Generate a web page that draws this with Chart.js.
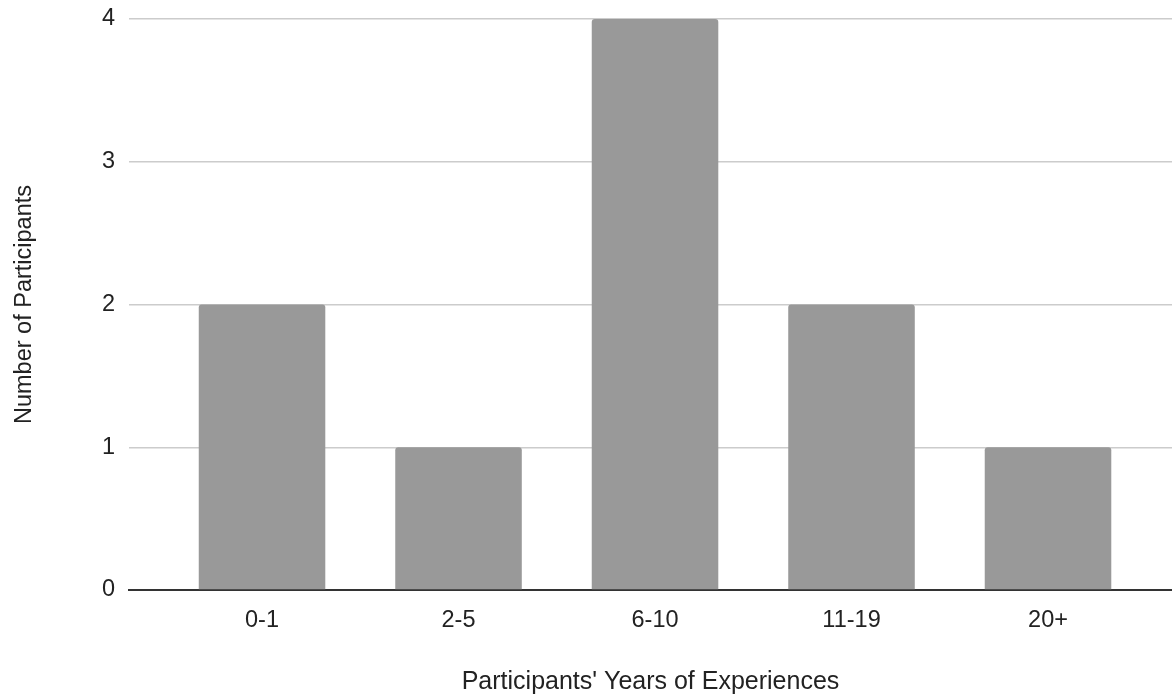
<!DOCTYPE html>
<html>
<head>
<meta charset="utf-8">
<script src="https://cdn.jsdelivr.net/npm/chart.js@4.4.1/dist/chart.umd.min.js"></script>
<style>
  html, body { margin: 0; padding: 0; background: #fff; }
  #wrap { width: 1172px; height: 698px; }
</style>
</head>
<body>
<div id="wrap"><canvas id="chart"></canvas></div>
<script>
// experience buckets and how many participants fall in each
var categories = ['0-1', '2-5', '6-10', '11-19', '20+'];
var participants = [2, 1, 4, 2, 1];
var yTicks = [0, 1, 2, 3, 4];

var xTitle = "Participants' Years of Experiences";
var yTitle = 'Number of Participants';

Chart.defaults.font.family = '"Liberation Sans", Arial, sans-serif';
Chart.defaults.color = '#222';

var points = categories.map(function (c, i) { return { x: i, y: participants[i] }; });

new Chart(document.getElementById('chart'), {
  type: 'bar',
  data: {
    datasets: [{
      data: points,
      backgroundColor: '#999999',
      borderRadius: 3,
      barPercentage: 1,
      categoryPercentage: 0.644
    }]
  },
  options: {
    responsive: true,
    maintainAspectRatio: false,
    animation: false,
    layout: { padding: { top: 19, left: 0, right: 0, bottom: 0 } },
    plugins: {
      legend: { display: false },
      tooltip: { enabled: false }
    },
    scales: {
      x: {
        type: 'linear',
        offset: false,
        min: -0.677,
        max: 4.631,
        z: 1,
        grid: { display: false, drawTicks: false },
        border: { display: true, color: '#333', width: 2 },
        afterBuildTicks: function (scale) {
          scale.ticks = categories.map(function (c, i) { return { value: i }; });
        },
        afterFit: function (scale) { scale.height = 108; },
        ticks: {
          autoSkip: false,
          maxRotation: 0,
          padding: 16,
          font: { size: 23.5 },
          callback: function (v) { return categories[v]; }
        },
        title: {
          display: true,
          text: xTitle,
          font: { size: 25 },
          padding: { top: 0, bottom: 1 }
        }
      },
      y: {
        min: 0,
        max: 4,
        afterBuildTicks: function (scale) {
          scale.ticks = yTicks.map(function (v) { return { value: v }; });
        },
        afterFit: function (scale) {
          scale.width = 129;
          scale.paddingTop = 0;
        },
        grid: { color: '#cccccc', lineWidth: 1.5, drawTicks: false },
        border: { display: false },
        ticks: { padding: 14, font: { size: 23.5 } },
        title: {
          display: true,
          text: yTitle,
          font: { size: 23.5 },
          padding: { top: 10, bottom: 0 }
        }
      }
    }
  }
});
</script>
</body>
</html>
